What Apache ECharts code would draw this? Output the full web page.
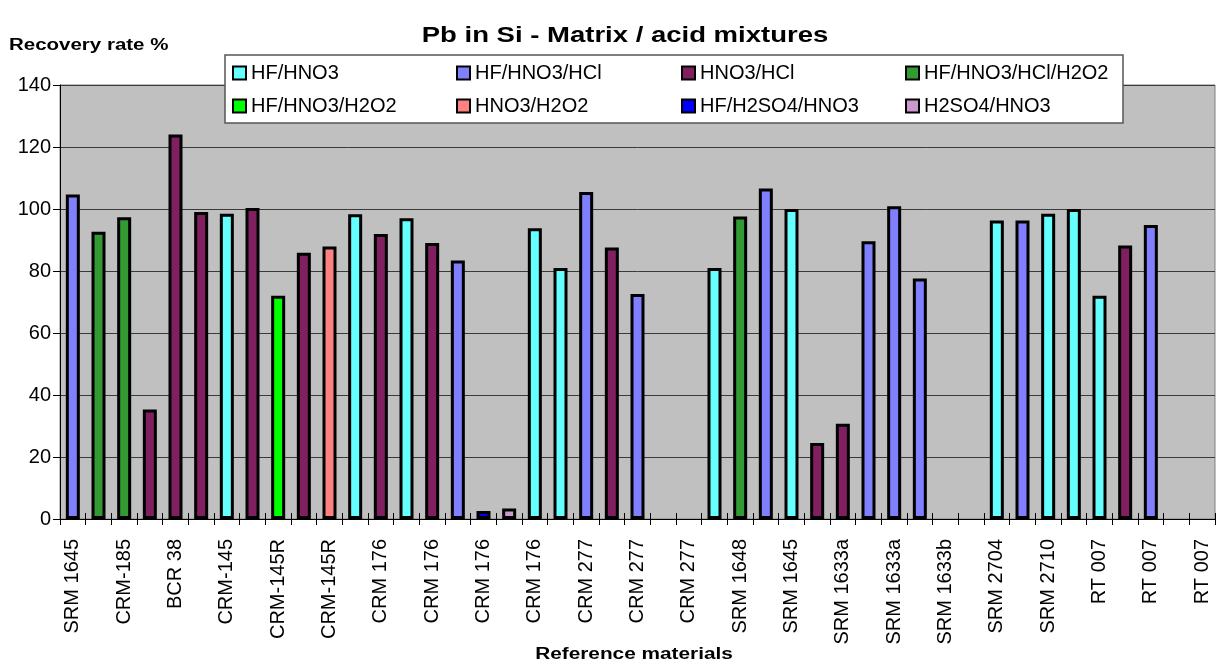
<!DOCTYPE html>
<html>
<head>
<meta charset="utf-8">
<script src="https://cdn.jsdelivr.net/npm/echarts@6/dist/echarts.min.js"></script>
<style>html,body{margin:0;padding:0;background:#fff}#c{width:1217px;height:666px}</style>
</head>
<body>
<div id="c"></div>
<script>
const categories = [
  'SRM 1645','', 'CRM-185','', 'BCR 38','', 'CRM-145','', 'CRM-145R','', 'CRM-145R','',
  'CRM 176','', 'CRM 176','', 'CRM 176','', 'CRM 176','', 'CRM 277','', 'CRM 277','',
  'CRM 277','', 'SRM 1648','', 'SRM 1645','', 'SRM 1633a','', 'SRM 1633a','', 'SRM 1633b','',
  'SRM 2704','', 'SRM 2710','', 'RT 007','', 'RT 007','', 'RT 007'
];
const seriesNames = ['HF/HNO3','HF/HNO3/HCl','HNO3/HCl','HF/HNO3/HCl/H2O2','HF/HNO3/H2O2','HNO3/H2O2','HF/H2SO4/HNO3','H2SO4/HNO3'];
const seriesColors = ['#66FFFF','#8080FF','#802060','#339933','#00FF00','#FF8080','#0000FF','#CC99CC'];
const _ = null;
// values per category index (45 categories)
const hfHno3 =        [_,_,_,_,_,_,98.5,_,_,_,_,98.3,_,97,_,_,_,_,93.8,81,_,_,_,_,_,81,_,_,100,_,_,_,_,_,_,_,96.3,_,98.5,100,72,_,_,_,_];
const hfHno3Hcl =     [104.7,_,_,_,_,_,_,_,_,_,_,_,_,_,_,83.4,_,_,_,_,105.5,_,72.6,_,_,_,_,106.6,_,_,_,89.6,100.9,77.6,_,_,_,96.3,_,_,_,_,94.8,_,_];
const hno3Hcl =       [_,_,_,35.3,124,99,_,100.3,_,85.9,_,_,91.9,_,89,_,_,_,_,_,_,87.6,_,_,_,_,_,_,_,24.5,30.7,_,_,_,_,_,_,_,_,_,_,88.2,_,_,_];
const hfHno3HclH2o2 = [_,92.7,97.3,_,_,_,_,_,_,_,_,_,_,_,_,_,_,_,_,_,_,_,_,_,_,_,97.6,_,_,_,_,_,_,_,_,_,_,_,_,_,_,_,_,_,_];
const hfHno3H2o2 =    [_,_,_,_,_,_,_,_,72,_,_,_,_,_,_,_,_,_,_,_,_,_,_,_,_,_,_,_,_,_,_,_,_,_,_,_,_,_,_,_,_,_,_,_,_];
const hno3H2o2 =      [_,_,_,_,_,_,_,_,_,_,87.9,_,_,_,_,_,_,_,_,_,_,_,_,_,_,_,_,_,_,_,_,_,_,_,_,_,_,_,_,_,_,_,_,_,_];
const hfH2so4Hno3 =   [_,_,_,_,_,_,_,_,_,_,_,_,_,_,_,_,2.6,_,_,_,_,_,_,_,_,_,_,_,_,_,_,_,_,_,_,_,_,_,_,_,_,_,_,_,_];
const h2so4Hno3 =     [_,_,_,_,_,_,_,_,_,_,_,_,_,_,_,_,_,3.4,_,_,_,_,_,_,_,_,_,_,_,_,_,_,_,_,_,_,_,_,_,_,_,_,_,_,_];
const seriesValues = [hfHno3,hfHno3Hcl,hno3Hcl,hfHno3HclH2o2,hfHno3H2o2,hno3H2o2,hfH2so4Hno3,h2so4Hno3];
const yTicks = [0,20,40,60,80,100,120,140];

const FF = '"Liberation Sans", Arial, sans-serif';
const chart = echarts.init(document.getElementById('c'), null, {renderer:'canvas'});

const legendPos = [[232,63],[456,63],[681,63],[905,63],[232,96],[456,96],[681,96],[905,96]];
const legends = seriesNames.map((n,i)=>({
  data:[n], left:legendPos[i][0], top:legendPos[i][1], padding:0, z:200,
  icon:'rect', itemWidth:13, itemHeight:13, itemGap:0, selectedMode:false,
  itemStyle:{borderColor:'#000', borderWidth:2},
  textStyle:{fontFamily:FF, fontSize:20, color:'#000', padding:[0,0,0,0]}
}));

chart.setOption({
  animation:false,
  grid:{left:60, right:2, top:85, bottom:147, show:true, backgroundColor:'#C0C0C0', borderColor:'#808080', borderWidth:1},
  legend:legends,
  graphic:[
    {type:'rect', z:100, shape:{x:225, y:55, width:898, height:68}, style:{fill:'#fff', stroke:'#555', lineWidth:1.5}},
    {type:'text', z:200, x:625, y:36, scaleX:1.25, style:{text:'Pb in Si - Matrix / acid mixtures', font:'bold 22px '+FF, fill:'#000', align:'center', textAlign:'center', verticalAlign:'middle', textVerticalAlign:'middle'}},
    {type:'text', z:200, x:9, y:46, scaleX:1.28, style:{text:'Recovery rate %', font:'bold 16px '+FF, fill:'#000', align:'left', textAlign:'left', verticalAlign:'middle', textVerticalAlign:'middle'}},
    {type:'text', z:200, x:634, y:655, scaleX:1.3, style:{text:'Reference materials', font:'bold 16px '+FF, fill:'#000', align:'center', textAlign:'center', verticalAlign:'middle', textVerticalAlign:'middle'}}
  ],
  xAxis:[{
    type:'category', data:categories, boundaryGap:true,
    axisLine:{lineStyle:{color:'#000', width:1}},
    axisTick:{show:true, interval:0, length:6, lineStyle:{color:'#000'}},
    axisLabel:{interval:0, rotate:90, margin:20, color:'#000', fontFamily:FF, fontSize:20},
    splitLine:{show:false}
  },{
    type:'category', data:categories, boundaryGap:true, position:'bottom',
    axisLine:{show:false},
    axisTick:{show:true, inside:true, interval:0, length:6, lineStyle:{color:'#000'}},
    axisLabel:{show:false}, splitLine:{show:false}
  }],
  yAxis:{
    type:'value', min:yTicks[0], max:yTicks[yTicks.length-1], interval:20,
    axisLine:{show:true, lineStyle:{color:'#000'}},
    axisTick:{show:true, length:7, lineStyle:{color:'#000'}},
    axisLabel:{margin:9, color:'#000', fontFamily:FF, fontSize:20},
    splitLine:{show:true, lineStyle:{color:'#3a3a3a', width:1}}
  },
  series:seriesNames.map((n,i)=>({
    name:n, type:'bar', xAxisIndex:0, data:seriesValues[i], barWidth:14, barGap:'-100%',
    itemStyle:{color:seriesColors[i], borderColor:'#000', borderWidth:3}
  }))
});
</script>
</body>
</html>
